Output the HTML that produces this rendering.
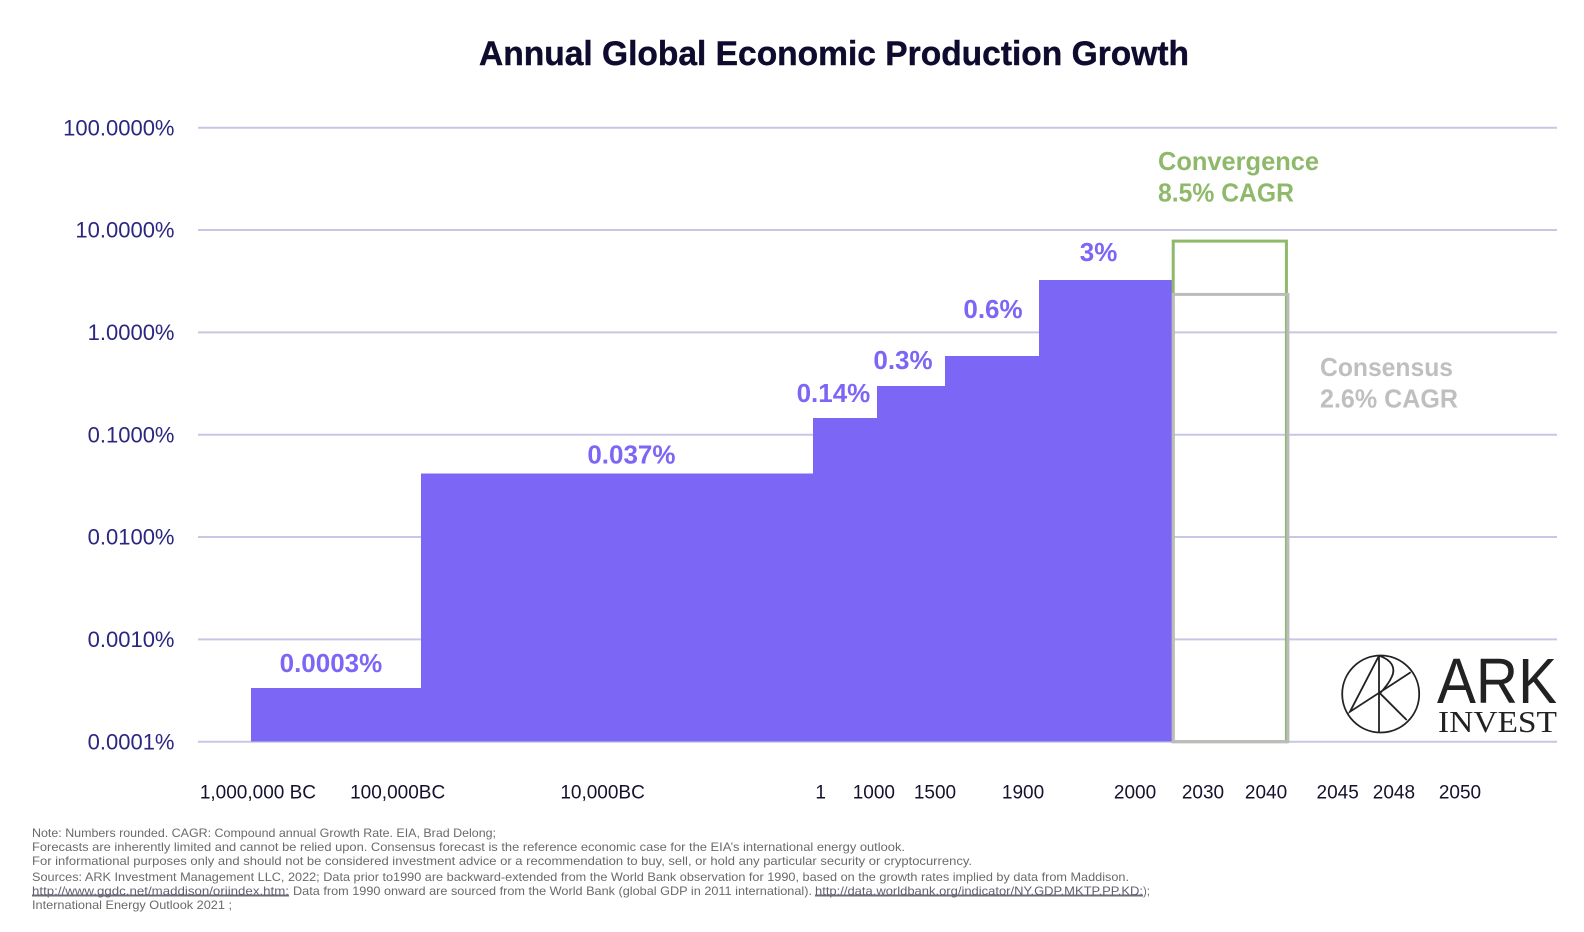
<!DOCTYPE html>
<html lang="en">
<head>
<meta charset="utf-8">
<title>Annual Global Economic Production Growth</title>
<style>
  html, body { margin: 0; padding: 0; background: #ffffff; }
  svg { display: block; font-family: "Liberation Sans", sans-serif; }
  .foot { font-size: 12px; fill: #6a6a6a; }
  .link { fill: #5f5f6e; cursor: pointer; }
</style>
</head>
<body>
<svg id="chart" xmlns="http://www.w3.org/2000/svg" width="1584" height="932" viewBox="0 0 1584 932">
  <rect x="0" y="0" width="1584" height="932" fill="#ffffff"/>
  <text x="479" y="65" font-size="34" font-weight="700" fill="#0e0b2e" stroke="#0e0b2e" stroke-width="0.4" textLength="710" lengthAdjust="spacingAndGlyphs">Annual Global Economic Production Growth</text>

  <g id="grid"></g>
  <g id="yaxis"></g>
  <g id="bars" shape-rendering="crispEdges"></g>
  <g id="forecasts"></g>
  <g id="barlabels"></g>
  <g id="xaxis"></g>

  <g font-size="26" font-weight="700" fill="#8fb96a">
    <text x="1158" y="170" textLength="161" lengthAdjust="spacingAndGlyphs">Convergence</text>
    <text x="1158" y="201.5" textLength="136" lengthAdjust="spacingAndGlyphs">8.5% CAGR</text>
  </g>
  <g font-size="26" font-weight="700" fill="#bfbfbf">
    <text x="1320" y="376" textLength="133" lengthAdjust="spacingAndGlyphs">Consensus</text>
    <text x="1320" y="407.5" textLength="138" lengthAdjust="spacingAndGlyphs">2.6% CAGR</text>
  </g>

  <g>
    <g fill="none" stroke="#222222" stroke-width="1.8">
      <circle cx="1380.7" cy="694" r="38.5"/>
      <path d="M1379 655.7V731.7M1379 655.7L1350 711.7L1410.7 672.3M1379 655.7C1392 660 1396 668 1391.7 677C1389 683 1384 689 1380 693.3L1406.7 720"/>
    </g>
    <text x="1437" y="703" font-size="64" fill="#222222" textLength="120" lengthAdjust="spacingAndGlyphs">ARK</text>
    <text x="1438" y="732" font-family="'Liberation Serif', serif" font-size="31" fill="#222222" textLength="119" lengthAdjust="spacingAndGlyphs">INVEST</text>
  </g>

  <g class="foot">
    <text x="32" y="837" textLength="464" lengthAdjust="spacingAndGlyphs">Note: Numbers rounded. CAGR: Compound annual Growth Rate. EIA, Brad Delong;</text>
    <text x="32" y="851" textLength="873" lengthAdjust="spacingAndGlyphs">Forecasts are inherently limited and cannot be relied upon. Consensus forecast is the reference economic case for the EIA’s international energy outlook.</text>
    <text x="32" y="865" textLength="940" lengthAdjust="spacingAndGlyphs">For informational purposes only and should not be considered investment advice or a recommendation to buy, sell, or hold any particular security or cryptocurrency.</text>
    <text x="32" y="881" textLength="1097" lengthAdjust="spacingAndGlyphs">Sources: ARK Investment Management LLC, 2022; Data prior to1990 are backward-extended from the World Bank observation for 1990, based on the growth rates implied by data from Maddison.</text>
    <text class="link" x="32" y="895" textLength="257" lengthAdjust="spacingAndGlyphs">http://www.ggdc.net/maddison/oriindex.htm;</text>
    <text x="293" y="895" textLength="519" lengthAdjust="spacingAndGlyphs">Data from 1990 onward are sourced from the World Bank (global GDP in 2011 international).</text>
    <text class="link" x="815" y="895" textLength="328" lengthAdjust="spacingAndGlyphs">http://data.worldbank.org/indicator/NY.GDP.MKTP.PP.KD;</text>
    <text x="1143" y="895" textLength="7" lengthAdjust="spacingAndGlyphs">);</text>
    <text x="32" y="909" textLength="200" lengthAdjust="spacingAndGlyphs">International Energy Outlook 2021 ;</text>
    <rect x="32" y="894.5" width="257" height="2" fill="#6b6b7a"/>
    <rect x="815" y="894.5" width="328" height="2" fill="#6b6b7a"/>
  </g>
</svg>

<script>
// Y axis values (percent, log scale)
const yTickValues = [100, 10, 1, 0.1, 0.01, 0.001, 0.0001];
const yTickLabels = ["100.0000%", "10.0000%", "1.0000%", "0.1000%", "0.0100%", "0.0010%", "0.0001%"];

// Historical growth bars
const eraNames = ["1m-bc", "100k-bc", "1-ad", "1000-ad", "1500-ad", "1900-ad"];
const eraGrowth = [0.000335, 0.0417, 0.1456, 0.299, 0.589, 3.25];
const eraValueLabels = ["0.0003%", "0.037%", "0.14%", "0.3%", "0.6%", "3%"];
// Era boundaries on the timeline axis (axis units, 0–100)
const eraEdges = [3.9, 16.4, 45.25, 49.96, 54.97, 61.88, 71.76];

// Forecast boxes
const forecastNames = ["convergence", "consensus"];
const forecastGrowth = [7.8, 2.35];
const forecastEnd = [80.09, 80.2];
const forecastColors = ["#8fb96a", "#bcbcbc"];

// X axis tick labels and their places on the timeline axis (axis units)
const xTickLabels = ["1,000,000 BC", "100,000BC", "10,000BC", "1", "1000", "1500", "1900", "2000", "2030", "2040", "2045", "2048", "2050"];
const xTickUnits = [4.41, 14.69, 29.77, 45.82, 49.73, 54.23, 60.71, 68.95, 73.95, 78.59, 83.86, 88.0, 92.86];

// Layout nudges for value labels (not data)
const labelShiftX = [-5, 14.5, -11.5, -8, 1, -7.5];
const labelRise = [16, 10, 16, 17, 38, 19];

const NS = "http://www.w3.org/2000/svg";
const plotLeft = 198, plotRight = 1557, plotBottom = 741.7, decadeHeight = 102.33;
function yScale(v) { return plotBottom - (Math.log10(v) + 4) * decadeHeight; }
function xScale(u) { return plotLeft + u * (plotRight - plotLeft) / 100; }
function make(tag, parent, attrs) {
  const el = document.createElementNS(NS, tag);
  for (const k in attrs) el.setAttribute(k, attrs[k]);
  parent.appendChild(el);
  return el;
}

const gridG = document.getElementById("grid");
const yG = document.getElementById("yaxis");
yTickValues.forEach(function (v, i) {
  const line = make("line", gridG, { x1: plotLeft, x2: plotRight, y1: yScale(v), y2: yScale(v), stroke: "#c9c5e5", "stroke-width": 2 });
  
  
  const t = make("text", yG, { x: 174.5, y: yScale(v) + 7.6, "text-anchor": "end", "font-size": 22, fill: "#2b2680" });
  t.textContent = yTickLabels[i];
  
  
});

const barsG = document.getElementById("bars");
const labelsG = document.getElementById("barlabels");
eraGrowth.forEach(function (v, i) {
  const x0 = xScale(eraEdges[i]), x1 = xScale(eraEdges[i + 1]), top = yScale(v);
  const bar = make("rect", barsG, { x: x0, y: top, width: x1 - x0, height: plotBottom - top, fill: "#7c66f6" });
  
  
  const t = make("text", labelsG, {
    x: (x0 + x1) / 2 + labelShiftX[i],
    y: top - labelRise[i],
    "text-anchor": "middle", "font-size": 26, "font-weight": 700, fill: "#7c66f6"
  });
  t.textContent = eraValueLabels[i];
  
  
});

const fG = document.getElementById("forecasts");
forecastGrowth.forEach(function (v, i) {
  const x0 = xScale(eraEdges[eraEdges.length - 1]), x1 = xScale(forecastEnd[i]), top = yScale(v);
  const box = make("rect", fG, { x: x0, y: top, width: x1 - x0, height: plotBottom - top, fill: "none", stroke: forecastColors[i], "stroke-width": 3 });
  
  
});

const xG = document.getElementById("xaxis");
xTickLabels.forEach(function (label, i) {
  const t = make("text", xG, { x: xScale(xTickUnits[i]), y: 798.5, "text-anchor": "middle", "font-size": 19, fill: "#14122e" });
  t.textContent = label;
  
  
});
</script>
</body>
</html>
